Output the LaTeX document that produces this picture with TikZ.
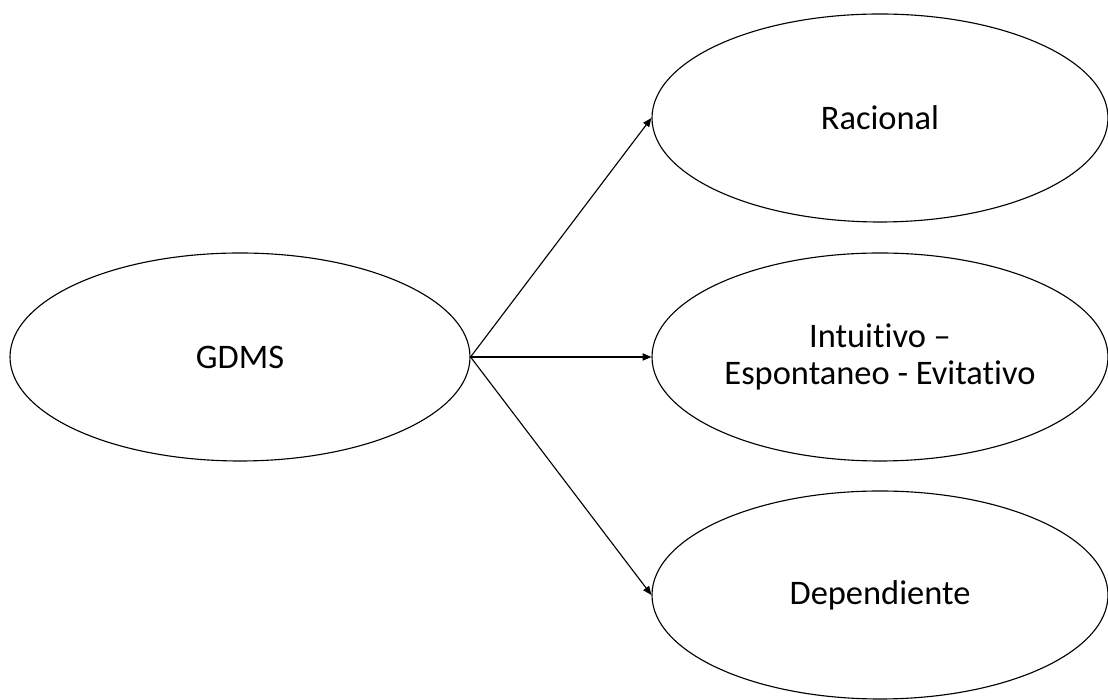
\documentclass[tikz,border=0pt]{standalone}
\usepackage{fontspec}
\setmainfont{Carlito}[Ligatures=NoCommon]
\usetikzlibrary{shapes.geometric, arrows.meta}
\begin{document}
\begin{tikzpicture}[every node/.style={font=\fontsize{24.5}{26}\selectfont},
  oval/.style={draw, ellipse, line width=0.8pt, inner sep=0pt, minimum width=11.4cm, minimum height=5.2cm, align=center},
  link/.style={-{Triangle[length=2.2mm, width=1.8mm]}, line width=0.8pt}]
\useasboundingbox (0,0) rectangle (27.7,17.5);
\node[oval, minimum width=11.5cm] (gdms) at (6.0,8.575) {GDMS};
\node[oval] (rac) at (22.0,14.55) {Racional};
\node[oval] (int) at (22.0,8.575) {Intuitivo –\\Espontaneo - Evitativo};
\node[oval] (dep) at (22.0,2.625) {Dependiente};
\draw[link] (gdms.east) -- (rac.west);
\draw[link] (gdms.east) -- (int.west);
\draw[link] (gdms.east) -- (dep.west);
\end{tikzpicture}
\end{document}
